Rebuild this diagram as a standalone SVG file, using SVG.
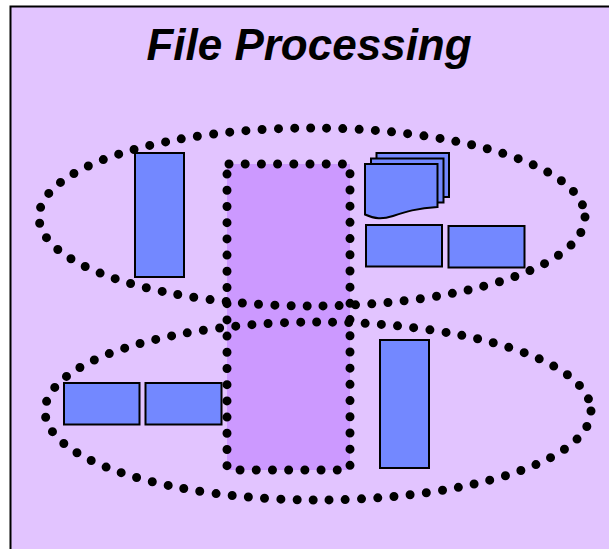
<svg xmlns="http://www.w3.org/2000/svg" width="609" height="549" viewBox="0 0 609 549">
<style>
.box{fill:#7388ff;stroke:#000;stroke-width:2}
.dot{fill:none;stroke:#000;stroke-width:9;stroke-linecap:round;stroke-dasharray:0 16.2}
text{font-family:"Liberation Sans",Arial,sans-serif;font-weight:bold;font-style:italic;font-size:44px;fill:#000}
</style>
<rect id="background" x="10.500" y="6.500" width="610" height="560" fill="#e2c4ff" stroke="#000" stroke-width="2"/>
<text x="309" y="60" text-anchor="middle">File Processing</text>
<g id="center-region"><rect x="227" y="164" width="123" height="306" fill="#cc99ff"/></g>
<g id="left-tall-top"><rect class="box" x="135" y="153" width="49" height="124"/></g>
<g id="document-stack">
<rect class="box" x="376.500" y="153" width="72.500" height="44"/>
<rect class="box" x="371" y="158.500" width="72.500" height="44"/>
<path class="box" d="M365 164H437.500V207C417 208 405 212 393 216C382 219.500 375 219 365 214.500Z"/>
</g>
<g id="box-top-a"><rect class="box" x="366" y="225" width="76" height="41.500"/></g>
<g id="box-top-b"><rect class="box" x="448.500" y="226" width="76" height="41.500"/></g>
<g id="box-bottom-a"><rect class="box" x="64" y="383" width="75.500" height="41.500"/></g>
<g id="box-bottom-b"><rect class="box" x="145.500" y="383" width="76" height="41.500"/></g>
<g id="right-tall-bottom"><rect class="box" x="380" y="340" width="49" height="128"/></g>
<g id="connectors">
<ellipse class="dot" cx="312" cy="217" rx="273" ry="89"/>
<ellipse class="dot" cx="318" cy="411" rx="273" ry="89"/>
<rect class="dot" x="227" y="164" width="123" height="306" rx="2"/>
</g>
</svg>
